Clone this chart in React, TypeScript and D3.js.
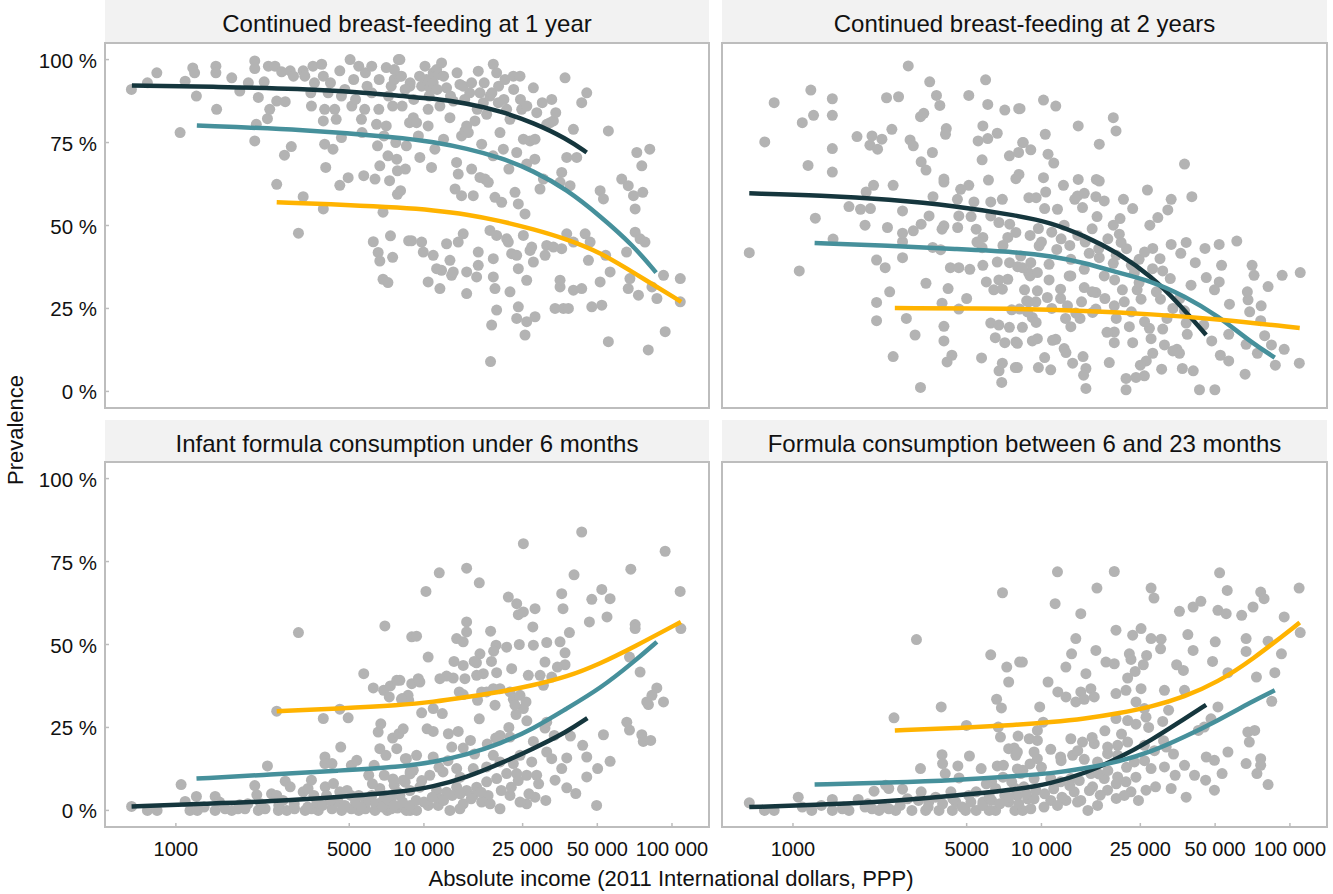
import { useEffect, useRef } from "react"
import * as d3 from "d3"

type Pt = [number, number]

const panelTitles = [
  "Continued breast-feeding at 1 year",
  "Continued breast-feeding at 2 years",
  "Infant formula consumption under 6 months",
  "Formula consumption between 6 and 23 months",
]

const incomeTicks = [1000, 5000, 10000, 25000, 50000, 100000]
const incomeTickLabels = ["1000", "5000", "10 000", "25 000", "50 000", "100 000"]
const prevalenceTicks = [0, 25, 50, 75, 100]
const fitColors = ["#15363d", "#46909b", "#ffb300"]

// income (2011 intl $, PPP), prevalence (%)
const bf1Points: Pt[] = [
  [662,91],[768,93],[838,96],[1040,78],[1090,93.5],[1170,97.5],[1190,96],[1210,89],[1450,98],[1450,96],[1460,85],[1680,94.5],[1810,90.5],[1960,93],[2080,99.6],[2080,97.3],[2080,75.5],[2110,80.5],[2150,88.6],[2270,93.3],[2340,82.2],[2390,85],[2360,98],[2510,98],[2550,87.5],[2550,62.4],[2670,96.3],[2760,87.3],[2740,71.2],[2890,96.6],[2920,73.8],[2980,95],[3120,47.7],[3260,58.7],[3260,96.6],[3310,95],[3520,86],[3570,98],[3620,93],[3870,98.6],[3930,95],[3930,81.5],[3930,55],[3980,74.5],[3980,85],[4020,67.5],[4110,90],[4300,73],[4370,85],[4430,82],[4580,96.6],[4580,62.1],[4650,76.5],[4650,89],[4950,64.4],[5040,100],[5120,86],[5210,94],[5460,98],[5630,78],[5720,65],[5770,85],[5810,96],[6160,90],[6160,98],[6250,45.1],[6350,64],[6440,80.5],[6500,74],[6540,41.9],[6580,85],[6640,39.3],[6640,68],[6840,54],[6840,33.8],[7050,80],[7160,32.8],[7050,97.6],[7160,71],[7270,63.5],[7330,46.9],[7380,92],[7480,86],[7480,40.4],[7590,94],[7700,75],[7770,70],[7820,66.5],[7820,59.4],[7890,100],[8000,95],[8050,60.5],[8170,86],[8420,67],[8680,45.4],[8750,81],[8800,93],
  [8000,100],[8120,95],[8780,92],[9060,82.5],[9340,81],[9630,70.5],[9790,92],[10100,98],[10240,94],[10400,85],[10400,80],[10560,91.5],[10730,67.5],[10900,93],[10900,96],[11250,97],[11420,95.5],[11600,86],[11780,99],[11070,73],[12340,91.5],[12730,82.5],[13130,87.5],[13350,61],[13540,69],[13750,65.5],[13970,92.5],[14180,77],[14180,59],[14400,92],[14630,78.5],[14870,80],[15100,78],[15570,93],[15570,67],[15810,59],[16060,81.5],[16560,96.5],[16820,90],[16820,64.5],[17090,74.5],[17360,87],[17630,64],[17900,83.5],[18180,63],[18460,89],[19040,98.6],[19340,58.5],[19640,96],[19950,87],[20260,78],[20580,57],[20900,73],[21220,94],[21550,85],[22230,82],[22930,95],[23290,60],[23660,72],[24020,56.5],[24400,95],[24780,85],[25170,76],[25560,53.5],[25960,68.5],[26780,75.5],[27620,91.5],[28050,76],[29380,61],[30310,64],[31260,80.5],[32250,81],[32750,88],[33260,81.5],[35380,63],[35930,66],[37060,94.5],[37650,70.5],[38830,62],[40050,79],[41310,70.5],[43260,87],[45330,90],[51320,60.5],[52930,58],[55400,78.5],[62700,64],[66630,62],[69950,59],[71040,55],[72150,72],[75560,68],[76260,60],[81360,73],
  [8910,45.4],[9790,45],[9940,42],[10400,33],[10900,41],[11250,37],[11600,31],[11780,36.5],[12340,44.5],[12730,39.5],[12930,35],[13130,36],[13750,45],[14400,47.5],[14870,36],[14870,29.5],[16310,34.5],[16560,42],[16560,38],[19040,40],[19040,34.5],[19340,31],[19640,24.5],[18750,20],[18460,48.5],[19640,47],[21550,46],[21890,45],[22230,30],[22580,41.5],[23660,41],[24020,37],[24020,25.5],[23660,22],[25560,17],[25960,33.5],[25960,21],[25170,47],[26780,42.5],[27200,43.5],[27620,39],[28050,22.5],[30790,41],[31260,44],[33260,43.5],[33780,25],[35380,31.5],[35380,33.5],[35930,43],[36490,25],[38230,25],[37650,47.5],[40050,30.5],[40050,45],[43260,31],[44660,47.5],[46050,39.5],[46770,45],[47500,25.5],[51320,33],[52120,26],[54040,41],[55400,15],[56310,36],[65610,42],[66630,31],[67680,34],[71040,48],[73240,29],[74380,46],[77830,45],[80250,12.5],[83040,31.5],[86960,28],[92440,35],[93880,18],[108000,34],[108000,27],[18560,9],
  [3500,90],[4200,93],[4800,91],[5300,88],[5900,92],[6600,94],[7200,89],[7600,97],[8400,91],[9100,88],[9600,95],[10500,89],[11300,91],[12000,95],[12800,89],[13600,96],[14600,88],[15300,90],[16400,85],[17500,93],[18800,90],[20000,92],[21000,88],[23000,91],[24500,88],[26000,86],[28500,84],[30000,87],[34000,84],[5600,82],[6900,77],[8500,74],[9500,77],[12000,76],[19000,71],[22000,67],[28000,70],
]
const bf1Dark: Pt[] = [[665,92.2],[1500,91.8],[3200,91.2],[5500,90.2],[8000,89],[10900,88.3],[14900,86.8],[20300,84.5],[27600,81],[37600,76.2],[45300,72]]
const bf1Teal: Pt[] = [[1215,80.1],[3310,78.9],[8000,76.5],[10900,75.2],[14900,73.2],[20300,70.5],[27600,66.5],[37600,60.9],[51300,52.9],[70000,43.9],[86300,35.8]]
const bf1Orange: Pt[] = [[2550,57],[5000,56.2],[8000,55.4],[10900,54.6],[14900,53.4],[20300,51.4],[27600,48.9],[37600,45.9],[51300,41.9],[70000,35.8],[108900,27]]

const bf2Points: Pt[] = [
  [2910,98.1],[3550,93.3],[3780,89.2],[3900,86.2],[3260,82.8],[3360,83.8],[2960,75.8],[3050,74],[3640,72],[3280,69.2],[3430,66.7],[4050,64],[4050,63.1],[3660,58.7],[4140,79.2],[4110,77.5],[5100,89.2],[5960,93.9],[6080,86.5],[7120,84.8],[8100,85.2],[5810,80],[5560,75.5],[6080,76.2],[6640,77.8],[5770,69.8],[6120,63.7],[8400,75],[8090,72],[7430,71],[7890,64.1],[5100,62.1],[4730,60.9],[4590,57.9],[5350,57.1],[6250,57.1],[6960,57.9],[8900,58.4],[4650,52.9],[5210,52.7],[6250,52.9],[6740,50.9],[7450,50.4],[3530,52.9],[3280,50.4],[3050,48.4],[4050,49.9],[3980,48.9],[4600,49.4],[5460,48.9],[5810,46.4],[7320,46.4],[7890,47.9],[3930,42.7],[3650,43.4],[2760,45.1],[2760,47.7],[2760,40.3],[5770,43.3],[6640,39],[7440,38.8],[8020,37.6],[8870,35.8],[4300,37.3],[4650,37.3],[5150,36.8],[5810,38],[6740,33.6],[7320,33.8],[6430,30.6],[6960,30.8],[8550,30.6],[8880,27],[4210,31],[3430,32.6],[2450,30],[2350,37.3],[2170,39.6],[2760,54.4],[2400,49.4],[1950,50.1],[1680,55.7],[1870,54.9],[2050,55.1],[2110,62.1],[1970,60.1],[2530,62.1],[1810,76.8],[2040,74.2],[2190,73],[2080,77],[2280,76],[2500,79],[2380,88.5],[2660,88.8],[1440,88.2],[1440,83.2],[1440,73.2],[1440,66.1],[1180,90.8],[1210,83.2],[1090,81],[840,87],[770,75.2],[1150,68.1],[1230,52.2],[1450,45.9],[667,41.8],[1060,36.3],[2170,26.8],[2170,21.3],[2530,10.5],[2860,22],[3100,17],[3260,1.2],[3980,26.6],[4050,19.6],[4050,15.2],[4360,10.9],[4170,8.9],[4650,24.8],[5740,10.1],[6250,20.6],[6740,20],[6520,16.2],[7120,14.7],[7430,19.3],[7890,14.9],[6750,6.2],[6960,8.5],[7850,7.2],[6920,2.7],[7590,24.6],[8170,24.8],[9190,22.3],[9190,15.2],
  [10190,87.8],[11420,86],[8200,85.2],[14060,80],[19460,82.5],[19960,78.5],[10360,77.5],[17090,74.5],[8450,75],[9060,72.8],[10630,71.5],[11210,68.8],[8120,65.4],[10190,64.4],[12260,62.1],[14060,63.9],[16630,63.9],[17090,63.4],[9520,58.4],[10400,60.1],[13970,58.9],[14870,59.7],[16560,58.7],[17900,57.4],[21380,57.9],[26700,60.7],[33270,57.9],[37650,68.5],[40300,58.7],[32250,54.7],[29400,52.4],[27300,50.1],[23290,55.1],[20720,52.1],[19460,50.1],[16740,52.7],[11600,54.9],[10300,55.1],[13620,57.9],[14630,55.4],[9720,49.1],[12340,50.1],[20580,47.4],[20920,44.9],[28050,43.1],[33270,44.3],[38230,44.9],[36370,41.6],[45520,43.1],[51900,44.3],[61120,45.3],[41600,38.8],[53070,38],[70420,38],[71710,35],[93060,35],[110030,35.8],[46060,34.3],[51940,33],[81670,31.6],[30760,36.3],[24720,39.8],[21170,30.6],[24270,30.6],[25170,27.8],[30130,27.8],[33800,25],[37650,24.3],[49700,30.6],[57100,26.3],[67840,27.6],[76610,25.8],[67400,30],[68860,24],[76260,21.3],[79120,16.8],[84260,14],[94820,12.7],[87350,7.9],[109100,8.5],[66630,14.2],[73970,11.5],[66000,5.2],[56710,17.2],[48450,15.2],[52480,10.9],[56710,9.2],[43250,0.5],[49880,0.5],[38230,20.6],[38620,17.2],[35100,12.7],[31260,14],[33780,12.2],[35940,11.5],[36910,6.9],[40830,6.2],[30460,6.7],[28050,11.5],[26420,9.2],[25000,7.9],[25960,4.7],[24020,4.2],[21900,3.9],[21900,0.5],[27620,15.9],[27200,19],[30760,18.8],[22580,19.5],[23290,14.7],[19640,17.9],[19640,14.7],[18750,8.7],[18350,17.8],[16060,23.8],[14300,22],[13130,19.5],[12340,12.9],[11420,15.7],[11080,15.4],[10300,10.2],[9720,7.2],[10900,6.5],[13350,8.5],[14700,10.5],[15100,6.9],[14780,4.9],[15100,0.9],[12550,11.7],[9630,15.9],[9520,20.8],[8780,24],[8380,19.3],[8000,14.5],[8000,7.2],[8720,27.3],[9630,30.3],[10560,28.3],[11940,28],[12730,25.8],[13750,23.6],[16560,24.8],[19640,25.8],[21550,27],[8380,37.3],[9000,34.8],[9630,35.8],[10730,38.3],[10730,33.6],[11940,30.8],[12930,34.8],[14870,31.3],[14870,36.8],[16560,29.8],[17900,34.8],[19460,38.6],[19700,33.6],[23660,35.8],[24720,32.8],[15570,41.6],[17090,40.3],[13130,39.8],[13130,34.8],[11530,42.8],[9790,43.9],[8250,40.8],[9060,38.8],
  [9000,47],[10000,45],[11000,48],[12000,46],[13000,44],[14000,47],[15000,45],[16000,49],[17000,43],[18500,46],[20000,41],[22000,43],[23000,38],[26000,42],[28000,37],[30000,40],[33000,34],[9500,27],[11000,25],[12500,22],[14500,27],[16000,30],[18000,28],[20000,22],[23000,24],[26000,21],[29000,30],[32000,22],[36000,28],[40000,32],[45000,20],[7000,44],[6000,33],[5000,28],[5500,45],
]
const bf2Dark: Pt[] = [[667,59.7],[1310,59.1],[2430,57.9],[4520,55.9],[8000,53],[10900,50.9],[14900,46.9],[20300,41.8],[27600,34.8],[35400,26.8],[46000,17]]
const bf2Teal: Pt[] = [[1222,44.7],[2430,43.9],[4520,42.9],[8000,42],[10900,40.8],[14900,38.8],[20300,35.8],[27600,33.3],[37600,28.8],[51300,22.8],[70000,14.7],[86900,10.2]]
const bf2Orange: Pt[] = [[2570,25.1],[8000,25],[14900,24.3],[27600,23.3],[51300,21.8],[109500,19.1]]

const ifPoints: Pt[] = [
  [663,1.2],[768,0],[840,0],[1050,7.8],[1090,2.7],[1140,0],[1210,4.2],[1220,0],[1440,4.2],[1440,0],[1680,0],[1810,1.7],[1950,2],[2080,7.5],[2120,4.7],[2150,0],[2340,13.4],[2430,5],[2550,4.5],[2550,29.9],[2590,0],[2760,8.8],[2890,7.1],[2800,0],[3120,53.6],[3260,5.6],[3410,6.6],[3520,9.1],[3320,0],[3750,0],[3930,27.7],[3990,16.1],[3990,14.1],[4000,7.1],[4050,4.5],[4260,14.1],[4320,8.1],[4580,30.5],[4620,19.1],[4580,5.6],[4660,0],[4950,27.9],[5100,13.6],[5080,4.5],[5360,15.1],[5460,0],[5720,41.2],[5990,10.6],[6250,36.9],[6300,13.6],[6350,0],[6540,23.6],[6640,18.6],[6700,26.1],[6880,36.2],[6920,10.6],[6920,4.5],[6960,55.6],[7030,16.6],[7120,0],[7250,34.2],[7320,37.5],[7480,21.8],[7590,7.6],[7770,39.2],[7770,18.6],[7820,0.7],[7930,23.1],[8170,33.7],[8420,15.6],[8680,33.2],[8800,0],[8930,52.3],[8930,38.2],[8800,11.6],[6640,6.6],[6160,4.5],[5460,4.5],[1580,0.5],[1780,0.5],[2290,0.5],[3010,0.5],[3520,0.5],[4260,0.5],[5100,0.5],[5810,0.5],[7380,0.5],[8400,0.5],[4520,2.5],[5810,3.5],[7380,3.5],[6750,2.5],[7820,5.5],[8400,8.5],
  [43260,83.9],[25170,80.4],[93840,78.1],[11530,71.6],[14865,73],[16720,68.6],[68240,72.7],[40290,71],[10190,66],[107900,66],[21890,64.3],[23660,62.3],[24020,59],[25170,59.8],[28050,60.8],[27480,55.3],[35930,65.3],[36370,60.8],[47500,63.6],[52120,66.6],[56300,63.8],[54700,58.3],[46460,56.8],[71040,56],[71040,54.8],[108600,54.8],[38590,53.6],[18570,54],[14865,56.8],[14865,53.8],[13550,51.8],[14400,50.8],[9340,52.5],[16820,47.2],[16280,44.5],[15940,44.9],[13220,44.9],[10400,46.2],[19530,49.8],[19100,48],[18720,44.9],[21550,49.2],[24240,50],[27620,49.8],[31260,50.6],[35380,50.8],[37060,47.5],[37060,43.9],[30760,44.7],[34520,43.2],[26350,40.7],[29400,40.7],[32750,40.2],[30310,37.7],[22580,42.7],[19640,41.5],[17355,41.2],[16310,40.7],[14630,39.7],[14400,43.7],[12340,40.5],[11600,39.7],[13130,39.9],[9630,38.7],[9490,39.7],[8000,39.2],[13880,35.7],[14400,34.9],[17090,35.7],[17900,35.7],[19040,36.7],[20260,36.7],[22230,35.7],[22930,33.5],[24400,34.7],[25170,30.7],[23510,28.9],[25800,32.7],[23290,31.7],[19350,31.7],[16450,33.2],[16720,27.6],[11860,29.2],[10900,30.7],[9790,29.4],[8630,34.7],[8120,33.5],[8250,24.6],[10300,24.6],[10900,23.8],[12550,23.1],[13750,23.8],[15400,21.1],[12950,19.1],[14400,18.8],[19460,21.8],[20260,22.6],[22230,22.1],[27620,20.8],[31260,17.6],[43650,19.6],[52930,22.8],[38960,22.4],[33520,22.6],[30760,24.8],[31260,26.6],[65740,26.6],[67400,24.2],[75570,22.8],[76610,20.8],[82070,21.1],[80370,31.9],[86880,36.9],[92440,32.7],[83040,34.7],[79110,32.7],[67400,46.2],[74380,41.7],[45330,16.1],[37650,15.8],[32750,15.6],[35930,12.6],[33780,9.1],[37650,6.8],[40940,5.1],[50150,12.6],[56300,14.8],[45330,10.1],[49680,1.5],[28050,4],[25960,2],[20260,0.5],[18140,4.5],[17090,2.5],[14400,2],[13970,0.5],[12730,0],[11420,1.5],[10400,1.5],[9340,0],[8500,0],[8000,4.5],[8780,6],[9630,7],[11250,6],[12340,5.5],[13550,7],[14870,6],[16310,7],[17900,8.6],[19640,9.6],[21550,11.1],[23660,11.1],[25960,10.6],[28480,10.6],[27200,14.6],[22930,14.1],[20260,14.6],[17900,13.1],[15810,12.6],[13550,12.6],[11940,11.6],[10560,10.6],[9060,12.1],[8500,15.6],[9340,16.6],[10900,16.1],[8250,9.1],[19040,16.6],[24400,16.6],[15810,4.5],[22230,4.5],[24400,2.5],[11600,3.5],
  [1300,1],[1500,2.5],[1900,0.5],[2200,2],[2600,1.5],[2700,3],[3000,2],[3400,1],[3700,2.5],[3900,1.5],[4200,3],[4800,1.5],[5300,2.5],[5600,1],[6000,3],[6400,2],[6800,1],[7200,3],[7600,1.5],[8200,2.5],[8800,1.5],[9300,3],[10000,2.5],[10800,4],[12000,3],[13000,4.5],[14000,5],[15500,3.5],[17000,5.5],[18500,2],[20500,6],[22500,7],[24000,9],[26500,5],[29000,8],[31000,3],[3600,4.5],[4900,6],[6200,8],[7500,9.5],[8800,11],[9800,9],[11500,13],[12500,15],[14000,10],[16000,17],[18000,20],[22000,25],[26000,27],
]
const ifDark: Pt[] = [[663,1.2],[1310,2],[2430,2.7],[4520,4],[8000,5.5],[10900,7.1],[14900,10],[20300,14.1],[27600,18.6],[37600,23.6],[45600,27.8]]
const ifTeal: Pt[] = [[1211,9.6],[2430,10.8],[4520,12],[8000,13.1],[10900,14.5],[14900,16.8],[20300,20.1],[27600,24.6],[37600,30.7],[51300,36.7],[70000,44.7],[86900,50.8]]
const ifOrange: Pt[] = [[2550,29.9],[4520,30.7],[8000,31.7],[10900,32.7],[14900,34.2],[20300,35.7],[27600,37.7],[37600,40.2],[51300,44.2],[70000,49.2],[108600,56.8]]

const fcPoints: Pt[] = [
  [667,2.3],[768,0],[840,0],[1050,4],[1090,1],[1190,0],[1440,3.3],[1440,0],[1680,0],[1830,3.3],[1950,1],[2120,5.8],[2220,0],[2360,7.6],[2430,6.6],[2550,27.9],[2760,6.4],[2590,0],[2890,3.5],[3140,51.5],[3260,12.6],[3280,5.6],[3420,0],[3750,4],[3950,31.2],[3980,16.8],[4000,14.1],[4100,11.1],[4320,5.6],[4380,0],[4610,13.4],[4660,9.8],[4990,25.6],[5100,4.5],[5130,16.4],[5460,0],[5720,12.6],[6160,4.5],[6250,46.9],[6300,8.6],[6540,0],[6600,33.5],[6640,13.4],[6700,25.1],[6840,22.1],[6900,30.9],[6970,65.6],[7030,13.6],[7120,4.5],[7250,43.2],[7380,38.7],[7380,18.6],[7590,8.6],[7770,18.8],[7820,0],[7890,16.6],[8050,22.4],[8170,44.7],[8420,12.1],[8800,3.5],[8930,21.6],[7380,2.5],[5810,2.5],[4520,2.5],[3520,2.5],[3010,0],[3870,0],[4950,0],[6160,0],[8400,0],[5460,5.6],[6540,6.6],[7820,6.6],[2080,0.5],[2430,0.5],[1580,0.5],
  [11600,71.9],[19640,72],[16720,67],[27620,67],[28370,64],[11350,62.3],[14400,59.3],[52120,71.6],[55940,66.3],[76260,65.8],[78710,63.8],[108900,67],[43820,63],[40770,61.3],[35930,60],[51320,60.3],[55400,59.3],[63960,58.8],[71040,61.3],[94820,58.3],[110000,53.6],[19950,54.3],[25170,54.8],[23290,52.8],[27620,51.8],[30310,51.6],[30160,48.7],[38830,53],[50060,50.8],[66630,51.8],[81670,51],[13750,51.8],[13220,47.2],[16560,48.2],[18180,44.7],[19640,44.2],[22580,47.2],[22930,45.5],[26500,46.7],[25700,43.9],[40770,48.2],[48820,44.9],[66630,47.9],[92440,47.2],[8380,44.7],[12540,43.2],[15100,41.2],[23830,41.9],[22230,39.9],[35000,43.9],[37260,42.2],[56300,41.5],[86960,41.5],[73330,40.2],[10630,38.7],[11640,35.7],[12550,34.2],[14400,35.7],[15810,36.7],[16310,34.2],[19950,35.2],[21890,36.2],[25170,36.7],[31260,36.2],[37650,36.2],[13750,32.7],[14870,33.5],[9840,31.2],[10160,26.6],[9630,24.1],[24020,32.7],[25960,30.7],[32490,30.2],[19950,27.7],[22230,27.1],[26350,28.1],[30760,26.8],[48120,27.6],[51320,31.2],[42790,24.1],[45180,25.1],[67680,23.6],[72150,24.1],[68640,20.6],[84490,32.9],[56300,17.6],[46060,16.1],[49680,15.1],[53330,11.1],[66630,14.1],[76260,15.6],[76260,13.6],[73650,11.1],[81670,7.8],[49680,6.1],[45780,9.1],[41310,10.6],[38230,4],[33260,6.6],[28790,7.1],[26350,6.1],[24570,3],[22930,5.6],[21890,8.6],[20000,3.6],[18460,6.1],[17240,4.6],[16060,7.1],[15380,0],[14400,3],[13540,5.6],[12550,3],[10900,3],[10240,1],[9060,0.5],[8000,4.5],[8500,7.1],[9340,9.6],[8250,11.1],[9630,15.6],[10900,18.4],[11940,16.1],[13350,16.6],[14870,15.4],[16820,14.6],[18460,17.1],[20260,16.6],[23660,14.6],[27620,12.6],[31260,13.1],[34520,10.6],[37650,13.6],[31770,19.1],[25960,19.6],[22230,20.6],[20260,19.6],[18460,19.1],[16310,20.1],[14630,20.6],[13130,21.6],[9630,21.1],[9340,17.6],[8000,17.6],[11940,8.6],[10900,9.6],[17900,9.6],[20260,10.1],[15810,11.1],[13130,9.6],[9340,3.5],[11600,1.5],[13970,2.5],[16820,1.5],[21550,4.5],
  [1300,1.5],[1600,1],[2000,2],[2300,1],[2700,1.5],[3200,3],[3500,1],[4000,2],[4400,3.5],[4800,1],[5200,2.5],[5800,1.5],[6300,3],[6800,2],[7400,4],[8100,2],[8700,5],[9500,6],[10300,5],[11200,6.5],[12100,4],[13000,7.5],[14200,9],[15600,6],[17000,11],[18500,12],[20000,8],[22000,13],[24000,10],[26000,15],[28500,18],[31000,21],[34000,17],[6000,8],[7000,10],[8000,12.5],[9000,14],[10000,13],[12000,15],[14000,18],[16000,22],[18000,24],[21000,23],[24000,26],[27000,25],
]
const fcDark: Pt[] = [[667,1],[1310,1.7],[2430,2.7],[4520,4.5],[8000,6.3],[10900,8.1],[14900,11.1],[20300,15.6],[27600,21.1],[37600,27.6],[46000,31.8]]
const fcTeal: Pt[] = [[1222,7.8],[2430,8.4],[4520,9.1],[8000,10.4],[10900,11.1],[14900,12.6],[20300,14.6],[27600,17.6],[37600,22.1],[51300,27.1],[70000,32.7],[86900,36.2]]
const fcOrange: Pt[] = [[2570,24.1],[4520,24.8],[8000,25.8],[10900,26.6],[14900,27.6],[20300,29.2],[27600,31.2],[37600,34.2],[51300,38.7],[70000,45.2],[109500,56.6]]

const panelPoints = [bf1Points, bf2Points, ifPoints, fcPoints]
const panelFits = [
  [bf1Dark, bf1Teal, bf1Orange],
  [bf2Dark, bf2Teal, bf2Orange],
  [ifDark, ifTeal, ifOrange],
  [fcDark, fcTeal, fcOrange],
]

export default function App() {

  const ref = useRef<SVGSVGElement | null>(null)

  useEffect(() => {

    const svg = d3.select(ref.current)
    svg.selectAll("*").remove()

    const width = 1333
    const height = 894
    const font = "'Liberation Sans', Arial, Helvetica, sans-serif"
    const cols = [[105, 709], [722, 1327]]
    const rows = [{ strip: 0, top: 43, bottom: 408 }, { strip: 420, top: 462, bottom: 827 }]
    const frame = "#bdbdbd"

    svg.attr("width", width).attr("height", height)
      .style("font-family", font)

    svg.append("rect").attr("width", width).attr("height", height).attr("fill", "#fff")

    panelTitles.forEach((title, i) => {
      const [x0, x1] = cols[i % 2]
      const row = rows[Math.floor(i / 2)]

      const x = d3.scaleLog().domain([518, 141000]).range([x0, x1])
      const y = d3.scaleLinear().domain([-5, 105]).range([row.bottom, row.top])

      const g = svg.append("g")

      // strip
      g.append("rect")
        .attr("x", x0).attr("y", row.strip)
        .attr("width", x1 - x0).attr("height", row.top - row.strip)
        .attr("fill", "#f2f2f2")
      g.append("text")
        .attr("x", (x0 + x1) / 2).attr("y", row.strip + 32)
        .attr("text-anchor", "middle")
        .attr("font-size", 24)
        .attr("fill", "#111")
        .text(title)

      // points
      g.append("g").selectAll("circle")
        .data(panelPoints[i])
        .enter()
        .append("circle")
        .attr("cx", d => x(d[0]))
        .attr("cy", d => y(d[1]))
        .attr("r", 5.5)
        .attr("fill", "#b3b3b3")

      // fitted curves
      const line = d3.line<Pt>()
        .x(d => x(d[0]))
        .y(d => y(d[1]))
        .curve(d3.curveBasis)

      panelFits[i].forEach((fit, k) => {
        g.append("path")
          .attr("d", line(fit))
          .attr("fill", "none")
          .attr("stroke", fitColors[k])
          .attr("stroke-width", 4.5)
      })

      // frame
      g.append("rect")
        .attr("x", x0).attr("y", row.top)
        .attr("width", x1 - x0).attr("height", row.bottom - row.top)
        .attr("fill", "none")
        .attr("stroke", frame)
        .attr("stroke-width", 2)

      // y axis on left column
      if (i % 2 === 0) {
        prevalenceTicks.forEach(t => {
          g.append("line")
            .attr("x1", x0).attr("x2", x0 + 4)
            .attr("y1", y(t)).attr("y2", y(t))
            .attr("stroke", frame).attr("stroke-width", 1.5)
          g.append("text")
            .attr("x", 97).attr("y", y(t) + 8)
            .attr("text-anchor", "end")
            .attr("font-size", 20.5)
            .attr("fill", "#111")
            .text(`${t} %`)
        })
      }

      // x axis on bottom row
      if (i >= 2) {
        incomeTicks.forEach((t, k) => {
          g.append("line")
            .attr("x1", x(t)).attr("x2", x(t))
            .attr("y1", row.bottom).attr("y2", row.bottom - 4)
            .attr("stroke", frame).attr("stroke-width", 1.5)
          g.append("text")
            .attr("x", x(t)).attr("y", 856)
            .attr("text-anchor", "middle")
            .attr("font-size", 20)
            .attr("fill", "#111")
            .text(incomeTickLabels[k])
        })
      }
    })

    svg.append("text")
      .attr("x", 671).attr("y", 886)
      .attr("text-anchor", "middle")
      .attr("font-size", 22)
      .attr("fill", "#111")
      .text("Absolute income (2011 International dollars, PPP)")

    svg.append("text")
      .attr("transform", "translate(23,430) rotate(-90)")
      .attr("text-anchor", "middle")
      .attr("font-size", 22)
      .attr("fill", "#111")
      .text("Prevalence")

  }, [])

  return <svg ref={ref} style={{ position: "absolute", left: 0, top: 0, display: "block" }} />
}
